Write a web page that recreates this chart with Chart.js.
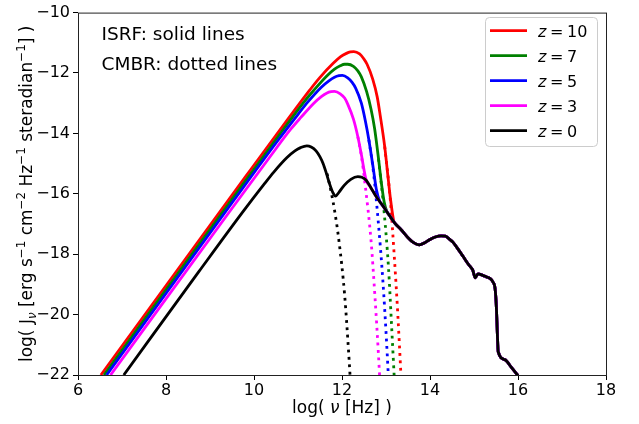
<!DOCTYPE html>
<html>
<head>
<meta charset="utf-8">
<script src="https://cdn.jsdelivr.net/npm/chart.js@4.4.0/dist/chart.umd.min.js"></script>
<style>
  html, body { margin: 0; padding: 0; background: #fff; }
  #wrap { width: 639px; height: 424px; }
</style>
</head>
<body>
<div id="wrap"><canvas id="sed" width="639" height="424"></canvas></div>
<script>
// Axis ticks
const xTicks = [6, 8, 10, 12, 14, 16, 18];
const yTicks = [-22, -20, -18, -16, -14, -12, -10];
const redshifts = [10, 7, 5, 3, 0];

// [log(nu), log(J_nu)]
// solid lines (CMBR + ISRF) up to where they join the z=0 curve
const isrfZ10 = [[6.52,-22],[9.80,-15.45],[10.80,-13.47],[11.27,-12.56],[11.49,-12.16],[11.80,-11.68],[11.97,-11.46],[12.10,-11.35],[12.19,-11.30],[12.27,-11.29],[12.40,-11.37],[12.49,-11.52],[12.57,-11.71],[12.70,-12.21],[12.80,-12.79],[12.87,-13.42],[12.97,-14.43],[13.05,-15.50],[13.10,-16.15],[13.18,-16.93]];
const isrfZ7 = [[6.59,-22],[9.66,-15.86],[10.66,-13.88],[11.13,-12.97],[11.36,-12.57],[11.66,-12.09],[11.83,-11.87],[11.96,-11.76],[12.06,-11.71],[12.13,-11.71],[12.26,-11.78],[12.36,-11.93],[12.44,-12.13],[12.56,-12.62],[12.66,-13.20],[12.74,-13.83],[12.83,-14.84],[12.90,-15.70],[12.96,-16.28],[13.02,-16.59]];
const isrfZ5 = [[6.65,-22],[9.53,-16.24],[10.53,-14.26],[11.01,-13.35],[11.23,-12.95],[11.53,-12.47],[11.71,-12.25],[11.83,-12.14],[11.93,-12.09],[12.01,-12.08],[12.13,-12.16],[12.23,-12.31],[12.31,-12.50],[12.44,-13.00],[12.53,-13.58],[12.61,-14.21],[12.71,-15.15],[12.78,-15.85],[12.86,-16.26]];
const isrfZ3 = [[6.74,-22],[9.36,-16.76],[10.36,-14.78],[10.83,-13.87],[11.06,-13.48],[11.36,-13.00],[11.53,-12.78],[11.66,-12.66],[11.75,-12.62],[11.83,-12.61],[11.96,-12.69],[12.06,-12.83],[12.13,-13.03],[12.26,-13.53],[12.36,-14.11],[12.44,-14.70],[12.50,-15.20],[12.55,-15.55]];
const isrfZ0 = [[7.04,-22],[8.75,-18.57],[9.75,-16.59],[10.23,-15.68],[10.45,-15.28],[10.75,-14.80],[10.93,-14.58],[11.06,-14.47],[11.20,-14.41],[11.30,-14.45],[11.41,-14.58],[11.50,-14.78],[11.57,-15.00],[11.64,-15.30],[11.72,-15.68],[11.79,-15.95],[11.85,-16.08],[11.93,-15.95],[12.05,-15.72],[12.20,-15.52],[12.36,-15.43],[12.45,-15.45],[12.55,-15.55],[12.65,-15.78],[12.78,-16.10],[12.93,-16.40],[13.08,-16.72],[13.20,-16.97],[13.35,-17.20],[13.53,-17.50],[13.61,-17.60],[13.76,-17.69],[13.88,-17.62],[13.99,-17.52],[14.12,-17.43],[14.25,-17.39],[14.35,-17.40],[14.44,-17.50],[14.52,-17.60],[14.67,-17.90],[14.75,-18.07],[14.88,-18.35],[14.97,-18.52],[15.03,-18.78],[15.09,-18.65],[15.20,-18.70],[15.28,-18.75],[15.36,-18.80],[15.43,-18.92],[15.48,-19.15],[15.51,-19.80],[15.53,-20.60],[15.55,-21.23],[15.70,-21.49],[15.85,-21.75],[16.00,-22.02]];

// dotted lines (CMBR only), from where they leave the solid lines
const cmbrZ10 = [[12.97,-14.43],[13.10,-16.23],[13.19,-18.11],[13.27,-20.04],[13.34,-22.01]];
const cmbrZ7 = [[12.83,-14.84],[12.96,-16.64],[13.06,-18.52],[13.13,-20.46],[13.20,-22.43]];
const cmbrZ5 = [[12.61,-14.21],[12.71,-15.22],[12.83,-17.02],[12.93,-18.90],[13.01,-20.83],[13.08,-22.80]];
const cmbrZ3 = [[12.36,-14.11],[12.44,-14.74],[12.53,-15.75],[12.66,-17.55],[12.75,-19.43],[12.83,-21.36],[12.90,-23.33]];
const cmbrZ0 = [[11.66,-15.33],[11.75,-15.91],[11.83,-16.54],[11.93,-17.55],[12.06,-19.35],[12.15,-21.23],[12.23,-23.17]];

const lineColors = ["#ff0000", "#008000", "#0000ff", "#ff00ff", "#000000"];
const solidCurves = [isrfZ10, isrfZ7, isrfZ5, isrfZ3, isrfZ0];
const dottedCurves = [cmbrZ10, cmbrZ7, cmbrZ5, cmbrZ3, cmbrZ0];
const FONT = "'DejaVu Sans'";

const toPoints = arr => arr.map(p => ({ x: p[0], y: p[1] }));

// past the join point every solid line follows the z=0 curve
function withTail(own) {
    const lastX = own[own.length - 1][0];
    return own.concat(isrfZ0.filter(p => p[0] > lastX));
}

const datasets = [];
redshifts.forEach((z, i) => {
    datasets.push({
        label: "z = " + z,
        data: toPoints(withTail(solidCurves[i])),
        borderColor: lineColors[i],
        borderWidth: 2.8,
        pointRadius: 0,
        fill: false,
        clip: 0,
        cubicInterpolationMode: "monotone",
        order: 100 - 2 * i,
    });
    datasets.push({
        label: "",
        data: toPoints(dottedCurves[i]),
        borderColor: lineColors[i],
        borderWidth: 2.8,
        borderDash: [2.8, 4.6],
        borderCapStyle: "butt",
        pointRadius: 0,
        fill: false,
        clip: 0,
        cubicInterpolationMode: "monotone",
        order: 99 - 2 * i,
    });
});

// text with super/subscripts, drawn along the current x axis of ctx
function drawRich(ctx, parts, size) {
    const small = size * 0.7;
    const fontOf = p => (p[2] ? "italic " : "") + (p[1] ? small : size) + "px " + FONT;
    let total = 0;
    parts.forEach(p => { ctx.font = fontOf(p); total += ctx.measureText(p[0]).width; });
    let x = -total / 2;
    parts.forEach(p => {
        ctx.font = fontOf(p);
        const dy = p[1] === 1 ? -size * 0.4 : p[1] === -1 ? size * 0.22 : 0;
        ctx.fillText(p[0], x, dy);
        x += ctx.measureText(p[0]).width;
    });
}

const yLabelParts = [["log( J", 0], ["\u03bd", -1, true], [" [erg s", 0], ["\u22121", 1], [" cm", 0], ["\u22122", 1], [" Hz", 0], ["\u22121", 1], [" steradian", 0], ["\u22121", 1], ["] )", 0]];
const xLabelParts = [["log( ", 0], ["\u03bd", 0, true], [" [Hz] )", 0]];

const decorations = {
    id: "decorations",
    afterDatasetsDraw(chart) {
        const ctx = chart.ctx;
        const a = chart.chartArea;
        ctx.save();
        // frame
        ctx.strokeStyle = "#222";
        ctx.lineWidth = 1;
        ctx.strokeRect(a.left + 0.5, a.top + 0.5, a.right - a.left, a.bottom - a.top);

        ctx.fillStyle = "#000";
        ctx.textBaseline = "alphabetic";
        ctx.textAlign = "left";
        // notes
        ctx.font = "18.5px " + FONT;
        ctx.fillText("ISRF: solid lines", 101.5, 39.5);
        ctx.fillText("CMBR: dotted lines", 101.5, 70);

        // axis titles
        ctx.save();
        ctx.translate((a.left + a.right) / 2, 413);
        drawRich(ctx, xLabelParts, 17);
        ctx.restore();
        ctx.save();
        ctx.translate(32, (a.top + a.bottom) / 2);
        ctx.rotate(-Math.PI / 2);
        drawRich(ctx, yLabelParts, 17);
        ctx.restore();

        // legend
        ctx.beginPath();
        ctx.roundRect(485.5, 17.5, 112, 129, 4);
        ctx.fillStyle = "rgba(255,255,255,0.8)";
        ctx.fill();
        ctx.strokeStyle = "#cccccc";
        ctx.stroke();
        redshifts.forEach((z, i) => {
            const y = 30.7 + i * 25;
            ctx.strokeStyle = lineColors[i];
            ctx.lineWidth = 2.8;
            ctx.beginPath();
            ctx.moveTo(490, y);
            ctx.lineTo(527, y);
            ctx.stroke();
            ctx.fillStyle = "#000";
            ctx.font = "italic 16px " + FONT;
            ctx.fillText("z", 538, y + 5.8);
            ctx.font = "16px " + FONT;
            ctx.fillText("=", 550, y + 5.8);
            ctx.fillText(String(z), 567, y + 5.8);
        });
        ctx.restore();
    },
};

const tickGrid = { display: true, drawOnChartArea: false, drawTicks: true, tickLength: 5, tickColor: "#000", tickWidth: 1 };
const tickFont = { family: "DejaVu Sans", size: 16 };

new Chart(document.getElementById("sed"), {
    type: "line",
    data: { datasets: datasets },
    options: {
        responsive: false,
        animation: false,
        events: [],
        layout: { padding: { top: 8, right: 33, left: 0, bottom: 0 } },
        plugins: { legend: { display: false }, tooltip: { enabled: false } },
        scales: {
            x: {
                type: "linear",
                min: 6,
                max: 18,
                afterBuildTicks: s => { s.ticks = xTicks.map(v => ({ value: v })); },
                afterFit: s => { s.height = 49; },
                grid: tickGrid,
                border: { display: false },
                ticks: { color: "#000", font: tickFont, padding: 1, maxRotation: 0, autoSkip: false },
            },
            y: {
                type: "linear",
                min: -22,
                max: -10,
                afterBuildTicks: s => { s.ticks = yTicks.map(v => ({ value: v })); },
                afterFit: s => { s.width = 78; },
                grid: tickGrid,
                border: { display: false },
                ticks: {
                    color: "#000",
                    font: tickFont,
                    padding: 3,
                    autoSkip: false,
                    callback: v => (v < 0 ? "\u2212" + Math.abs(v) : String(v)),
                },
            },
        },
    },
    plugins: [decorations],
});
</script>
</body>
</html>
